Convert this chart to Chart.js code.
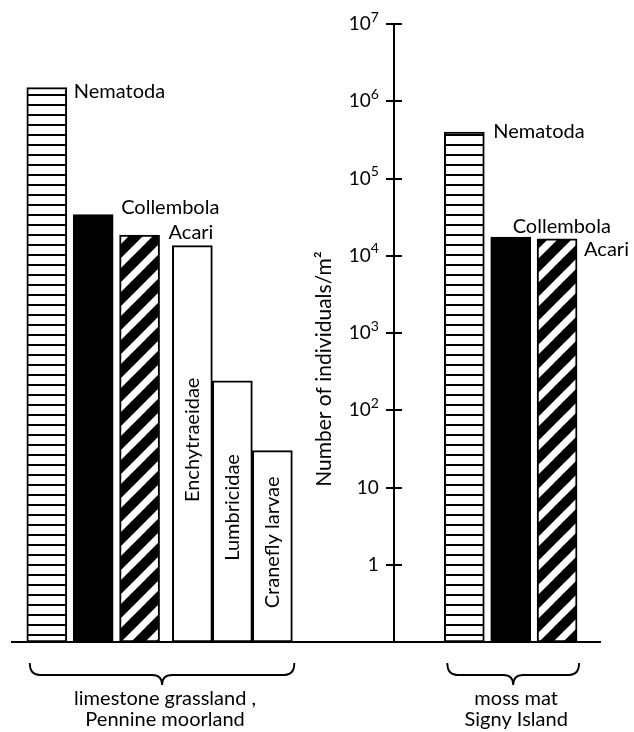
<!DOCTYPE html>
<html>
<head>
<meta charset="utf-8">
<script src="https://cdn.jsdelivr.net/npm/chart.js@4.4.1/dist/chart.umd.min.js"></script>
<style>
  html, body { margin: 0; padding: 0; background: #fff; }
  canvas { display: block; }
</style>
</head>
<body>
<canvas id="chart" width="634" height="732"></canvas>
<script>
// data (individuals per m2)
const taxa = ['Nematoda', 'Collembola', 'Acari', 'Enchytraeidae', 'Lumbricidae', 'Cranefly larvae'];
const pennine = [1.5e6, 3.4e4, 1.85e4, 1.35e4, 240, 30];   // limestone grassland, Pennine moorland
const signy = [4.0e5, 1.75e4, 1.65e4];                      // moss mat, Signy Island
const siteNames = [['limestone grassland ,', 'Pennine moorland'], ['moss mat', 'Signy Island']];
const yTicks = [1e7, 1e6, 1e5, 1e4, 1e3, 100, 10, 1];
const yTickLabels = [['10', '7'], ['10', '6'], ['10', '5'], ['10', '4'], ['10', '3'], ['10', '2'], ['10', ''], ['1', '']];
const yTitle = 'Number of individuals/m²';

// layout: slot of each bar on the x scale, the last three Pennine bars stand side by side in one slot
const pennineSlots = [0, 1, 2, 4, 4, 4];
const signySlots = [9, 10, 11];
const axisSlot = 7.48;
const tickHalf = 0.1725;   // 8px in slot units, ticks cross the axis
const FONT = 'Lato, "Open Sans", sans-serif';

// fills
const hLines = (() => {
  const c = document.createElement('canvas');
  c.width = 8; c.height = 10;
  const g = c.getContext('2d');
  g.fillStyle = '#fff'; g.fillRect(0, 0, 8, 10);
  g.fillStyle = '#000'; g.fillRect(0, 4, 8, 2);
  return g.createPattern(c, 'repeat');
})();
const diag = (() => {
  const c = document.createElement('canvas');
  c.width = 24; c.height = 24;
  const g = c.getContext('2d');
  g.fillStyle = '#000'; g.fillRect(0, 0, 24, 24);
  g.strokeStyle = '#fff'; g.lineWidth = 7;
  for (const k of [-24, 0, 24]) {
    g.beginPath(); g.moveTo(k - 4, 28); g.lineTo(k + 28, -4); g.stroke();
  }
  return g.createPattern(c, 'repeat');
})();
const fills = { Nematoda: hLines, Collembola: '#000', Acari: diag };

// one record per bar; lanes let the side-by-side bars share a slot
const bars = [];
pennine.forEach((v, i) => bars.push({ site: 0, taxon: taxa[i], value: v, slot: pennineSlots[i] }));
signy.forEach((v, i) => bars.push({ site: 1, taxon: taxa[i], value: v, slot: signySlots[i] }));
bars.forEach(b => { b.lane = b.taxon === 'Lumbricidae' ? 1 : b.taxon === 'Cranefly larvae' ? 2 : 0; });
const slots = [...new Set(bars.map(b => b.slot))].sort((a, b) => a - b);
bars.forEach(b => { b.index = slots.indexOf(b.slot); });

const datasets = [0, 1, 2].map(lane => {
  const pick = s => bars.find(b => b.lane === lane && b.slot === s);
  return {
    data: slots.map(s => ({ x: s, y: pick(s) ? pick(s).value : null })),
    backgroundColor: slots.map(s => pick(s) ? (fills[pick(s).taxon] || '#fff') : '#fff'),
    borderColor: '#000',
    borderWidth: 2,
    borderSkipped: false,
    barThickness: 40,
    skipNull: true
  };
});

const sideNames = [
  { Nematoda: [7, 4], Collembola: [8, -7], Acari: [9, -3] },
  { Nematoda: [9, 0], Collembola: [-18, -10], Acari: [7, 11] }
];

function brace(ctx, x1, x2, y) {
  const top = y + 21, mid = y + 33, tip = y + 43, r = 10, cx = (x1 + x2) / 2;
  ctx.beginPath();
  ctx.moveTo(x1, top);
  ctx.quadraticCurveTo(x1, mid, x1 + r, mid);
  ctx.lineTo(cx - r, mid);
  ctx.quadraticCurveTo(cx, mid, cx, tip);
  ctx.quadraticCurveTo(cx, mid, cx + r, mid);
  ctx.lineTo(x2 - r, mid);
  ctx.quadraticCurveTo(x2, mid, x2, top);
  ctx.stroke();
}

const annotate = {
  id: 'annotate',
  afterDatasetsDraw(chart) {
    const { ctx, chartArea, scales } = chart;
    const el = b => chart.getDatasetMeta(b.lane).data[b.index];
    const ax = scales.x.getPixelForValue(axisSlot);
    ctx.save();
    ctx.fillStyle = '#000';
    ctx.strokeStyle = '#000';
    ctx.lineWidth = 1.8;
    ctx.font = '20px ' + FONT;
    ctx.textBaseline = 'middle';

    bars.forEach(b => {
      const e = el(b);
      const off = sideNames[b.site][b.taxon];
      if (off) {
        ctx.textAlign = 'left';
        ctx.fillText(b.taxon, e.x + e.width / 2 + off[0], e.y + off[1]);
      } else {
        ctx.save();
        ctx.translate(e.x, (e.y + e.base) / 2 - 4);
        ctx.rotate(-Math.PI / 2);
        ctx.textAlign = 'center';
        ctx.fillText(b.taxon, 0, 0);
        ctx.restore();
      }
    });

    siteNames.forEach((lines, s) => {
      const own = bars.filter(b => b.site === s);
      const first = el(own[0]), last = el(own[own.length - 1]);
      const x1 = first.x - first.width / 2 + 3, x2 = last.x + last.width / 2 + 2;
      brace(ctx, x1, x2, chartArea.bottom);
      ctx.textAlign = 'center';
      lines.forEach((t, k) => ctx.fillText(t, (x1 + x2) / 2 + 3, chartArea.bottom + 57 + k * 21));
    });

    // tick labels of the log axis, powers of ten with a raised exponent
    ctx.textAlign = 'right';
    yTicks.forEach((v, i) => {
      const py = scales.y.getPixelForValue(v);
      const [base, exp] = yTickLabels[i];
      let x = ax - 15;
      if (exp) {
        ctx.font = '14px ' + FONT;
        ctx.fillText(exp, x, py - 7);
        x -= ctx.measureText(exp).width;
      }
      ctx.font = '19px ' + FONT;
      ctx.fillText(base, x, py);
    });

    ctx.save();
    ctx.translate(ax - 70, (chartArea.top + chartArea.bottom) / 2 + 36);
    ctx.rotate(-Math.PI / 2);
    ctx.textAlign = 'center';
    ctx.font = '21px ' + FONT;
    ctx.fillText(yTitle, 0, 0);
    ctx.restore();
    ctx.restore();
  }
};

const yAxisCommon = {
  type: 'logarithmic',
  min: 0.1,
  max: 1e7,
  afterBuildTicks: s => { s.ticks = yTicks.map(v => ({ value: v })); },
  ticks: { display: false }
};

new Chart(document.getElementById('chart'), {
  type: 'bar',
  data: { datasets },
  options: {
    responsive: false,
    animation: false,
    devicePixelRatio: 1,
    layout: { padding: { left: 12, right: 34, top: 24, bottom: 90 } },
    plugins: { legend: { display: false }, tooltip: { enabled: false } },
    scales: {
      x: {
        type: 'linear',
        min: -0.75,
        max: 11.925,
        offset: false,
        ticks: { display: false },
        grid: { display: false, drawTicks: false },
        border: { color: '#000', width: 2 }
      },
      // tick marks: drawn from a hidden line 8px right of the axis, 16px long, so they cross it
      y: Object.assign({}, yAxisCommon, {
        position: { x: axisSlot + tickHalf },
        grid: { drawOnChartArea: false, drawTicks: true, tickLength: 16, color: '#000', lineWidth: 2 },
        border: { display: false }
      }),
      // the axis line itself
      y2: Object.assign({}, yAxisCommon, {
        position: { x: axisSlot },
        grid: { display: false, drawTicks: false },
        border: { color: '#000', width: 2 }
      })
    }
  },
  plugins: [annotate]
});
</script>
</body>
</html>
